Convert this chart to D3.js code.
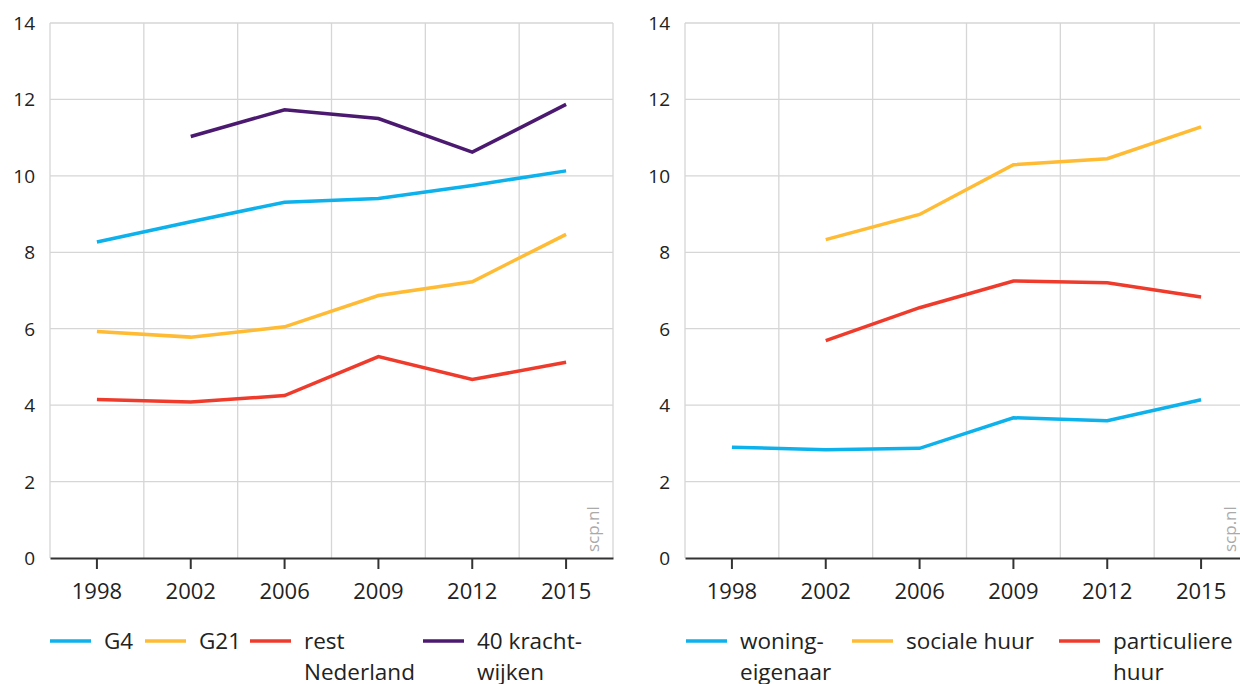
<!DOCTYPE html>
<html><head><meta charset="utf-8">
<script src="https://cdn.jsdelivr.net/npm/d3@7"></script>
<style>
body{margin:0;background:#fff;}
svg text{font-family:"Open Sans","Noto Sans",sans-serif;fill:#222;}
</style></head>
<body><svg id="c" width="1240" height="684"></svg>
<script>
const years = ["1998","2002","2006","2009","2012","2015"];
const yTicks = [0,2,4,6,8,10,12,14];

const leftNames = ["G4","G21","rest Nederland","40 krachtwijken"];
const leftG4 = [8.27,8.8,9.31,9.41,9.75,10.13];
const leftG21 = [5.93,5.78,6.05,6.87,7.23,8.47];
const leftRest = [4.15,4.08,4.25,5.27,4.67,5.12];
const leftKracht = [null,11.03,11.73,11.5,10.62,11.87];

const rightNames = ["woningeigenaar","sociale huur","particuliere huur"];
const rightOwner = [2.9,2.83,2.87,3.67,3.59,4.14];
const rightSocial = [null,8.33,8.99,10.29,10.45,11.28];
const rightPrivate = [null,5.69,6.55,7.25,7.2,6.83];

const colors = {blue:"#0db1ec", yellow:"#ffbb33", red:"#ef3b2c", purple:"#4b1970"};

const svg = d3.select("#c");

function panel(x0, x1, wmX, series, legend){
  const top = 23, bottom = 558;
  const x = d3.scaleBand().domain(years).range([x0, x1]).padding(0);
  const y = d3.scaleLinear().domain([0,14]).range([bottom, top]);
  const g = svg.append("g");
  g.selectAll(".hg").data(yTicks.filter(d=>d>0)).join("line")
    .attr("x1", x0).attr("x2", x1).attr("y1", d=>y(d)).attr("y2", d=>y(d))
    .attr("stroke","#d6d6d6").attr("stroke-width",1.3);
  const bounds = years.map(d=>x(d)).concat([x1]);
  g.selectAll(".vg").data(bounds).join("line")
    .attr("x1", d=>d).attr("x2", d=>d).attr("y1", top).attr("y2", bottom)
    .attr("stroke","#d6d6d6").attr("stroke-width",1.3);
  g.selectAll(".yl").data(yTicks).join("text")
    .attr("x", x0-15).attr("y", d=>y(d)+7)
    .attr("text-anchor","end").attr("font-size",19).text(d=>d);
  const xa = g.append("g").attr("transform",`translate(0,${bottom})`)
    .call(d3.axisBottom(x).tickSize(11).tickSizeOuter(0).tickPadding(14));
  xa.select(".domain").attr("stroke","#333").attr("stroke-width",2);
  xa.selectAll(".tick line").attr("stroke","#333").attr("stroke-width",2);
  xa.selectAll(".tick text").attr("font-size",22).attr("fill","#222")
    .attr("font-family","'Open Sans','Noto Sans',sans-serif");
  g.append("text").attr("transform",`translate(${wmX},${bottom-6}) rotate(-90)`)
    .attr("font-size",17).style("fill","#aaa").text("scp.nl");
  const line = d3.line().defined(d=>d.v!=null).x(d=>x(d.k)+x.bandwidth()/2).y(d=>y(d.v));
  series.forEach(s=>{
    g.append("path").datum(years.map((k,i)=>({k, v:s.values[i]})))
      .attr("d", line).attr("fill","none").attr("stroke", s.color)
      .attr("stroke-width",3.5).attr("stroke-linejoin","miter");
  });
  legend.forEach(l=>{
    g.append("line").attr("x1", l.x).attr("x2", l.x+41).attr("y1",641).attr("y2",641)
      .attr("stroke", l.color).attr("stroke-width",3.5);
    const t = g.append("text").attr("x", l.x+54).attr("y",649).attr("font-size",22.5);
    l.lines.forEach((s,i)=>t.append("tspan").attr("x", l.x+54).attr("dy", i?31:0).text(s));
  });
}

panel(50, 613, 599,
  [{values:leftG4,color:colors.blue},{values:leftG21,color:colors.yellow},
   {values:leftRest,color:colors.red},{values:leftKracht,color:colors.purple}],
  [{x:50,color:colors.blue,lines:["G4"]},
   {x:145,color:colors.yellow,lines:["G21"]},
   {x:250,color:colors.red,lines:["rest","Nederland"]},
   {x:423,color:colors.purple,lines:["40 kracht-","wijken"]}]);

panel(685, 1248, 1236,
  [{values:rightOwner,color:colors.blue},{values:rightSocial,color:colors.yellow},
   {values:rightPrivate,color:colors.red}],
  [{x:686,color:colors.blue,lines:["woning-","eigenaar"]},
   {x:852,color:colors.yellow,lines:["sociale huur"]},
   {x:1059,color:colors.red,lines:["particuliere","huur"]}]);
</script></body></html>
